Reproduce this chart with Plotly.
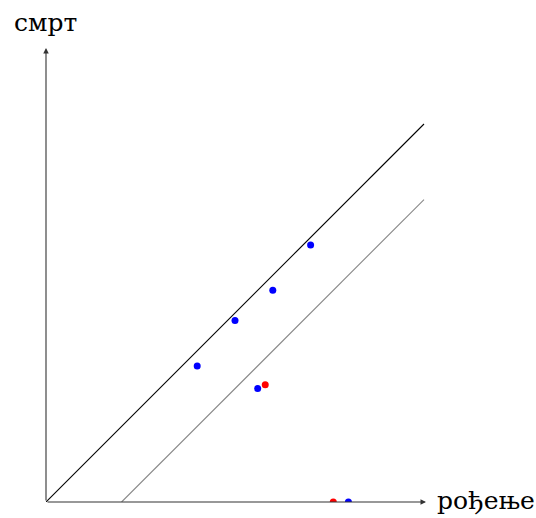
import plotly.graph_objects as go

# Observations (birth, death)
birth_blue = [4.0, 5.0, 6.0, 7.0, 5.6, 8.0]
death_blue = [3.6, 4.8, 5.6, 6.8, 3.0, 0.0]
birth_red = [5.8, 7.6]
death_red = [3.1, 0.0]

# Reference lines: death = birth, and death = birth - 2
diag_x = [0, 10]
diag_y = [0, 10]
shift_x = [2, 10]
shift_y = [0, 8]

x_label = "рођење"
y_label = "смрт"

X_MAX = 380 / 37.8
Y_MAX = 454 / 37.8

fig = go.Figure()
fig.add_trace(go.Scatter(x=diag_x, y=diag_y, mode="lines",
                         line=dict(color="black", width=1.1), hoverinfo="skip"))
fig.add_trace(go.Scatter(x=shift_x, y=shift_y, mode="lines",
                         line=dict(color="#888888", width=1.1), hoverinfo="skip"))
fig.add_trace(go.Scatter(x=birth_blue, y=death_blue, mode="markers",
                         marker=dict(color="#0000ff", size=7), cliponaxis=True))
fig.add_trace(go.Scatter(x=birth_red, y=death_red, mode="markers",
                         marker=dict(color="#ff0000", size=7), cliponaxis=True))

# Axes drawn as arrows from the origin
axis_color = "#333333"
fig.add_annotation(x=X_MAX, y=0, ax=0, ay=0, xref="x", yref="y", axref="x", ayref="y",
                   showarrow=True, arrowhead=2, arrowsize=1.0, arrowwidth=1.1,
                   arrowcolor=axis_color, text="")
fig.add_annotation(x=0, y=Y_MAX, ax=0, ay=0, xref="x", yref="y", axref="x", ayref="y",
                   showarrow=True, arrowhead=2, arrowsize=1.0, arrowwidth=1.1,
                   arrowcolor=axis_color, text="")

font = dict(family="DejaVu Serif, Liberation Serif, serif", size=25, color="black")
fig.add_annotation(x=-0.0026, y=1.057, xref="paper", yref="paper", text=y_label,
                   showarrow=False, xanchor="center", yanchor="middle", font=font)
fig.add_annotation(x=1.158, y=0.0044, xref="paper", yref="paper", text=x_label,
                   showarrow=False, xanchor="center", yanchor="middle", font=font)

fig.update_xaxes(range=[0, X_MAX], visible=False, showgrid=False, zeroline=False)
fig.update_yaxes(range=[0, Y_MAX], visible=False, showgrid=False, zeroline=False)
fig.update_layout(width=536, height=518, showlegend=False,
                  margin=dict(l=46, r=110, t=48, b=16, pad=0),
                  plot_bgcolor="white", paper_bgcolor="white")

fig.write_html("out.html")
